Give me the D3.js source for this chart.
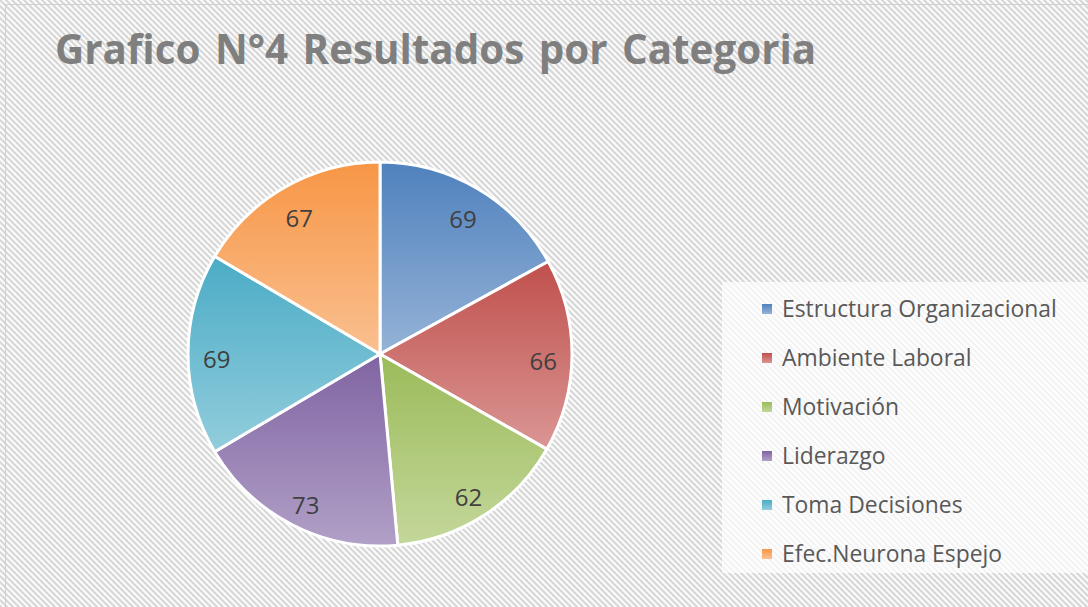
<!DOCTYPE html>
<html>
<head>
<meta charset="utf-8">
<script src="https://cdn.jsdelivr.net/npm/d3@7"></script>
<style>
  body { margin: 0; background: #fff; }
  svg { display: block; font-family: "Open Sans", "Noto Sans", sans-serif; }
</style>
</head>
<body>
<svg id="chart" width="1088" height="607"></svg>
<script>
// data
const categories = ["Estructura Organizacional", "Ambiente Laboral", "Motivación",
  "Liderazgo", "Toma Decisiones", "Efec.Neurona Espejo"];
const values = [69, 66, 62, 73, 69, 67];
const titleText = "Grafico N°4 Resultados por Categoria";

// office-style palette: dark at top, light at bottom of each slice
const topColors = ["#4f81bd", "#c0504d", "#9bbb59", "#8064a2", "#4bacc6", "#f79646"];
const bottomColors = ["#95b3d7", "#da9694", "#c4d79b", "#b1a0c7", "#92cddc", "#fac090"];

const svg = d3.select("#chart");
const width = +svg.attr("width");
const height = +svg.attr("height");
const defs = svg.append("defs");

// diagonal hatch background
const hatch = defs.append("pattern")
  .attr("id", "hatch")
  .attr("patternUnits", "userSpaceOnUse")
  .attr("width", 6).attr("height", 6);
hatch.append("rect").attr("width", 6).attr("height", 6).attr("fill", "#fff");
hatch.append("path")
  .attr("d", "M0,0 L6,6 M-3,3 L3,9 M3,-3 L9,3")
  .attr("stroke", "#d9d9d9")
  .attr("stroke-width", 2.4);

svg.append("rect")
  .attr("width", width).attr("height", height)
  .attr("fill", "url(#hatch)");

// chart frame (left + top visible)
svg.append("rect")
  .attr("x", 5.5).attr("y", 4.5)
  .attr("width", width + 10).attr("height", height + 10)
  .attr("fill", "none")
  .attr("stroke", "#d0d0d0")
  .attr("stroke-width", 1);

// gradients per series
const color = d3.scaleOrdinal().domain(categories).range(d3.range(categories.length));
categories.forEach((c, i) => {
  const lg = defs.append("linearGradient")
    .attr("id", "grad" + i)
    .attr("x1", 0).attr("y1", 0).attr("x2", 0).attr("y2", 1);
  lg.append("stop").attr("offset", "0%").attr("stop-color", topColors[i]);
  lg.append("stop").attr("offset", "100%").attr("stop-color", bottomColors[i]);
});

// title
const title = svg.append("text")
  .attr("x", 55).attr("y", 64)
  .attr("fill", "#7f7f7f")
  .style("font-weight", "bold")
  .style("font-size", "44px")
  .style("word-spacing", "4px")
  .text(titleText);
const tw = title.node().getComputedTextLength();
title.style("font-size", (44 * 760 / tw) + "px");

// pie
const cx = 380, cy = 354, radius = 192;
const data = categories.map((c, i) => ({ name: c, value: values[i] }));

const pie = d3.pie().sort(null).value(d => d.value);
const arc = d3.arc().innerRadius(0).outerRadius(radius);
const labelArc = d3.arc().innerRadius(radius * 0.85).outerRadius(radius * 0.85);

const pg = svg.append("g").attr("transform", `translate(${cx},${cy})`);

pg.selectAll("path.slice")
  .data(pie(data))
  .join("path")
  .attr("class", "slice")
  .attr("d", arc)
  .attr("fill", d => `url(#grad${color(d.data.name)})`)
  .attr("stroke", "#fff")
  .attr("stroke-width", 3)
  .attr("stroke-linejoin", "round");

pg.selectAll("text.val")
  .data(pie(data))
  .join("text")
  .attr("class", "val")
  .attr("transform", d => {
    const [x, y] = labelArc.centroid(d);
    return `translate(${x},${y + 6})`;
  })
  .attr("text-anchor", "middle")
  .attr("dy", "0.35em")
  .attr("fill", "#404040")
  .style("font-size", "24px")
  .text(d => d.data.value);

// legend
const legend = svg.append("g").attr("class", "legend");
legend.append("rect")
  .attr("x", 722).attr("y", 282)
  .attr("width", width - 722).attr("height", 291)
  .attr("fill", "#fff")
  .attr("opacity", 0.7);

const rowY = d3.scalePoint().domain(categories).range([309, 554]);

const rows = legend.selectAll("g.row")
  .data(categories)
  .join("g")
  .attr("class", "row")
  .attr("transform", d => `translate(762,${rowY(d)})`);

rows.append("rect")
  .attr("x", 0).attr("y", -5)
  .attr("width", 10).attr("height", 10)
  .attr("fill", d => `url(#grad${color(d)})`);

const ltext = rows.append("text")
  .attr("x", 20).attr("dy", "0.35em")
  .attr("fill", "#595959")
  .style("font-size", "22px")
  .text(d => d);

// size legend font so the longest entry spans like the reference
const lw = ltext.filter((d, i) => i === 0).node().getComputedTextLength();
ltext.style("font-size", (22 * 275 / lw) + "px");
</script>
</body>
</html>
